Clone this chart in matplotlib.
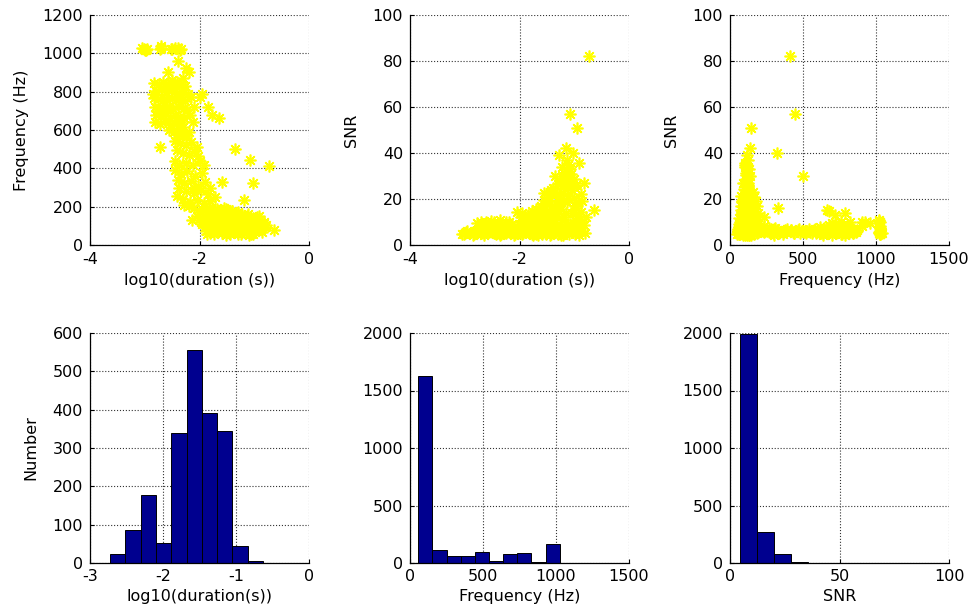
import numpy as np
import matplotlib
matplotlib.use("Agg")
import matplotlib.pyplot as plt

plt.rcParams['font.family'] = ['DejaVu Sans']
plt.rcParams['axes.unicode_minus'] = False

# triggers: log10(duration), frequency (Hz), SNR
# high-frequency group (600-850 Hz)
dur_high = [-2.83, -2.74, -2.66, -2.57, -2.49, -2.41, -2.33, -2.26,
            -2.80, -2.71, -2.62, -2.55, -2.46, -2.38, -2.29, -2.21,
            -2.84, -2.76, -2.68, -2.59, -2.51, -2.43, -2.35, -2.27,
            -2.82, -2.73, -2.64, -2.56, -2.48, -2.40, -2.31, -2.23,
            -2.79, -2.70, -2.61, -2.53, -2.45, -2.36, -2.28,
            -2.81, -2.72, -2.63, -2.54, -2.46, -2.38, -2.30,
            -2.55, -2.47, -2.40, -2.32, -2.25, -2.42,
            -2.15, -2.10, -2.18, -2.12, -2.00,
            -1.95, -1.85, -1.78, -1.65,
            -2.40, -2.58, -2.25, -2.20, -2.30, -2.50,
            -2.65, -2.35, -2.85, -2.62, -2.78, -2.47]
freq_high = [845, 838, 850, 842, 835, 848, 840, 830,
             805, 812, 798, 808, 800, 795, 810, 790,
             768, 760, 772, 755, 765, 758, 770, 752,
             722, 715, 728, 718, 710, 725, 712, 705,
             680, 672, 688, 665, 678, 670, 660,
             640, 632, 645, 628, 638, 625, 618,
             600, 590, 585, 595, 575, 560,
             770, 720, 680, 640, 770,
             790, 722, 680, 662,
             958, 905, 925, 905, 870, 860,
             700, 640, 790, 760, 700, 820]
snr_high = [5.2, 6.1, 5.5, 7.0, 5.8, 6.4, 5.1, 6.8,
            6.0, 5.3, 7.4, 5.6, 8.1, 6.2, 5.4, 7.2,
            4.8, 6.6, 5.9, 8.5, 6.3, 5.0, 7.6, 6.0,
            5.7, 6.9, 5.1, 7.8, 6.5, 9.2, 5.5, 6.7,
            6.2, 5.4, 7.1, 6.0, 8.8, 5.6, 6.4,
            5.1, 6.3, 7.5, 5.9, 6.8, 5.3, 7.9,
            6.1, 5.4, 6.9, 5.7, 6.5, 5.2,
            6.0, 5.5, 6.7, 5.8, 8.8,
            14.0, 13.2, 14.6, 15.2,
            9.5, 8.2, 9.8, 10.2, 6.5, 5.8,
            4.2, 4.3, 4.4, 10.0, 9.5, 9.8]

# 1024 Hz group
dur_top = [-3.02, -2.98, -3.05, -2.96, -3.00, -2.72, -2.70, -2.52,
           -2.50, -2.45, -2.36, -2.34, -2.40, -2.71]
freq_top = [1024, 1020, 1028, 1024, 1018, 1024, 1026, 1022,
            1024, 1028, 1020, 1024, 1030, 1040]
snr_top = [5.0, 5.8, 4.6, 6.2, 5.4, 7.5, 9.8, 10.6,
           6.0, 8.4, 11.0, 4.8, 7.2, 5.2]

# mid-frequency group (200-550 Hz)
dur_mid = [-2.45, -2.35, -2.25, -2.15, -2.05,
           -2.42, -2.30, -2.20, -2.10, -2.02,
           -2.45, -2.38, -2.25, -2.12, -2.00,
           -2.44, -2.33, -2.22, -2.08, -1.96,
           -2.40, -2.28, -2.15, -2.02, -1.90, -1.80,
           -2.38, -2.25, -2.10, -1.98, -1.85, -1.72,
           -2.30, -2.18, -2.05, -1.92, -1.80,
           -2.20, -2.10, -2.28, -2.30, -2.20, -1.91,
           -2.73, -2.42, -2.13, -1.58, -1.18, -2.05, -2.10]
freq_mid = [545, 530, 520, 540, 510,
            495, 480, 470, 490, 465,
            440, 420, 430, 415, 440,
            390, 370, 385, 360, 375,
            340, 325, 335, 310, 330, 300,
            295, 280, 270, 285, 265, 250,
            240, 225, 235, 220, 230,
            205, 195, 210, 570, 590, 415,
            511, 256, 130, 330, 235, 150, 300]
snr_mid = [5.5, 6.2, 5.1, 6.8, 5.7,
           6.0, 5.3, 7.1, 5.9, 6.4,
           5.2, 6.6, 5.8, 6.1, 5.4,
           6.9, 5.5, 6.3, 5.0, 6.7,
           5.8, 6.4, 5.2, 7.3, 6.0, 6.8,
           5.4, 6.9, 5.6, 6.2, 7.5, 6.6,
           5.9, 6.3, 5.5, 7.0, 8.2,
           6.1, 5.8, 6.4, 6.0, 5.5, 6.5,
           6.0, 6.0, 9.0, 16.0, 12.0, 14.3, 4.2]

# low-frequency, long-duration group (50-200 Hz)
dur_low = [-1.93, -1.90, -1.95, -1.88, -1.92,
           -1.83, -1.80, -1.84, -1.78, -1.81,
           -1.73, -1.70, -1.74, -1.68, -1.71,
           -1.63, -1.60, -1.64, -1.58, -1.61, -1.66,
           -1.53, -1.50, -1.54, -1.48, -1.51, -1.47,
           -1.43, -1.40, -1.44, -1.38, -1.41, -1.45, -1.39,
           -1.33, -1.30, -1.34, -1.28, -1.31, -1.29, -1.35,
           -1.23, -1.20, -1.24, -1.18, -1.21, -1.19, -1.25, -1.22,
           -1.13, -1.10, -1.14, -1.08, -1.11, -1.09, -1.15, -1.12,
           -1.03, -1.00, -1.04, -0.98, -1.01, -1.05, -0.99,
           -0.93, -0.90, -0.94, -0.88, -0.91,
           -0.83, -0.80, -0.78,
           -0.64, -0.82, -0.91, -0.95, -1.15, -1.27, -1.55, -0.98]
freq_low = [185, 150, 110, 75, 130,
            195, 160, 120, 90, 65,
            180, 140, 100, 70, 125,
            175, 135, 95, 62, 150, 115,
            170, 125, 85, 105, 140, 65,
            165, 130, 90, 110, 150, 70, 120,
            160, 115, 80, 135, 100, 60, 125,
            155, 120, 95, 70, 135, 110, 145, 80,
            150, 115, 90, 65, 125, 105, 140, 75,
            140, 110, 85, 70, 125, 100, 130,
            130, 100, 80, 115, 90,
            115, 95, 105,
            78, 120, 100, 145, 140, 115, 120, 110]
snr_low = [5.2, 6.8, 4.9, 7.5, 10.5,
           6.0, 5.4, 8.2, 4.6, 11.8,
           7.1, 5.0, 9.6, 6.3, 13.0,
           5.8, 12.4, 7.0, 4.8, 16.5, 4.4,
           6.6, 18.0, 5.1, 9.9, 14.2, 7.8,
           4.7, 22.0, 11.3, 6.2, 16.8, 8.6, 25.0,
           5.5, 26.5, 7.4, 19.2, 13.5, 4.9, 10.0,
           8.0, 29.0, 15.6, 5.3, 22.4, 31.5, 4.5, 11.0,
           6.4, 33.5, 18.5, 9.2, 26.0, 4.6, 13.8, 21.5,
           7.7, 28.5, 14.0, 5.0, 20.5, 24.0, 10.8,
           12.5, 6.0, 18.8, 22.0, 4.5,
           8.5, 5.2, 12.0,
           15.2, 27.0, 35.6, 51.0, 42.0, 39.0, 22.6, 8.7]

# more of the low-frequency group, filling the dense cloud
dur_low2 = [-2.00, -1.97, -1.86, -1.76, -1.69, -1.66, -1.56, -1.57, -1.49, -1.46,
            -1.37, -1.36, -1.42, -1.32, -1.26, -1.27, -1.17, -1.16, -1.14, -1.06,
            -1.07, -0.97, -0.96, -0.86, -0.87, -1.24, -1.44, -1.74, -1.06, -0.85,
            -1.90, -1.62, -1.52, -1.12, -1.30, -1.80, -1.58, -1.35, -1.19, -0.99,
            -1.13, -1.23, -1.75, -1.45, -1.20, -1.87, -1.68, -1.40, -1.02, -0.92,
            -1.85, -1.72, -1.60, -1.50, -1.41, -1.65, -1.55, -1.30, -1.45, -1.95,
            -1.52, -1.10, -1.08, -1.18, -1.12, -1.00]
freq_low2 = [170, 120, 140, 160, 110, 85, 115, 160, 95, 130,
             100, 140, 115, 125, 105, 150, 125, 95, 110, 120,
             90, 115, 135, 105, 85, 60, 55, 55, 55, 70,
             95, 180, 190, 160, 170, 185, 75, 80, 85, 75,
             125, 105, 130, 100, 130, 60, 190, 175, 60, 150,
             175, 190, 185, 175, 180, 170, 195, 165, 160, 190,
             50, 52, 130, 140, 105, 120]
snr_low2 = [9.0, 12.0, 10.0, 12.5, 15.5, 9.0, 19.5, 10.5, 13.0, 21.0,
            17.0, 12.5, 24.0, 22.0, 27.0, 17.0, 28.5, 24.5, 30.5, 31.0,
            27.0, 26.0, 16.0, 19.0, 14.5, 8.0, 6.0, 5.5, 7.0, 10.0,
            8.0, 8.5, 6.0, 9.0, 7.5, 9.5, 11.5, 15.0, 19.0, 17.0,
            37.0, 34.0, 4.2, 4.3, 4.2, 6.5, 5.5, 6.0, 5.5, 9.5,
            11.0, 14.0, 17.0, 19.0, 13.0, 12.0, 9.0, 21.0, 23.0, 7.0,
            5.0, 6.0, 33.0, 30.0, 35.0, 25.5]

# loud outliers
dur_loud = [-0.73, -1.07, -1.02, -1.36]
freq_loud = [412, 443, 325, 499]
snr_loud = [82.0, 57.0, 40.0, 30.0]

# histograms (10 bins each)
dur_edges = [-2.723, -2.514, -2.305, -2.096, -1.887, -1.678, -1.469, -1.260, -1.051, -0.842, -0.633]
dur_counts = [24, 85, 177, 52, 340, 555, 392, 345, 45, 6]
freq_edges = [57, 154, 251, 348, 445, 542, 639, 735, 832, 929, 1026]
freq_counts = [1630, 116, 58, 58, 96, 15, 82, 90, 6, 169]
snr_edges = [4.5, 12.3, 20.1, 27.9, 35.7, 43.5, 51.3, 59.1, 66.9, 74.7, 82.5]
snr_counts = [1995, 268, 79, 12, 3, 2, 1, 0, 0, 1]

dur = np.array(dur_high + dur_top + dur_mid + dur_low + dur_low2 + dur_loud)
freq = np.array(freq_high + freq_top + freq_mid + freq_low + freq_low2 + freq_loud)
snr = np.array(snr_high + snr_top + snr_mid + snr_low + snr_low2 + snr_loud)

fig = plt.figure(figsize=(9.73, 6.11), dpi=100)
W, H = 973.0, 611.0
lefts = [90, 410, 730]
row_top = [15, 333]
fs = 11.5


def make_ax(col, row):
    x0 = lefts[col]
    y0 = row_top[row]
    ax = fig.add_axes([x0 / W, 1 - (y0 + 230) / H, 219 / W, 230 / H])
    for s in ['top', 'right']:
        ax.spines[s].set_visible(False)
    for s in ['left', 'bottom']:
        ax.spines[s].set_linewidth(0.9)
    ax.grid(True, linestyle=':', color='#333333', linewidth=0.8)
    ax.set_axisbelow(True)
    ax.tick_params(direction='in', length=3, labelsize=fs, pad=5)
    if row == 1:
        ax.tick_params(axis='x', pad=4)
    return ax


star = (8, 2, 0)
mk = dict(linestyle='none', marker=star, color=(1, 1, 0), markersize=8.5, markeredgewidth=1.2)

ax = make_ax(0, 0)
ax.plot(dur, freq, **mk)
ax.set_xlim(-4, 0)
ax.set_ylim(0, 1200)
ax.set_xticks([-4, -2, 0])
ax.set_yticks(range(0, 1201, 200))
ax.set_xlabel('log10(duration (s))', fontsize=fs)
ax.set_ylabel('Frequency (Hz)', fontsize=fs, labelpad=10)

ax = make_ax(1, 0)
ax.plot(dur, snr, **mk)
ax.set_xlim(-4, 0)
ax.set_ylim(0, 100)
ax.set_xticks([-4, -2, 0])
ax.set_yticks(range(0, 101, 20))
ax.set_xlabel('log10(duration (s))', fontsize=fs)
ax.set_ylabel('SNR', fontsize=fs, labelpad=10)

ax = make_ax(2, 0)
ax.plot(freq, snr, **mk)
ax.set_xlim(0, 1500)
ax.set_ylim(0, 100)
ax.set_xticks([0, 500, 1000, 1500])
ax.set_yticks(range(0, 101, 20))
ax.set_xlabel('Frequency (Hz)', fontsize=fs)
ax.set_ylabel('SNR', fontsize=fs, labelpad=10)

navy = (0, 0, 0.5625)
hists = [(dur_edges, dur_counts, (-3, 0), [-3, -2, -1, 0], (0, 600), range(0, 601, 100), 'log10(duration(s))'),
         (freq_edges, freq_counts, (0, 1500), [0, 500, 1000, 1500], (0, 2000), range(0, 2001, 500), 'Frequency (Hz)'),
         (snr_edges, snr_counts, (0, 100), [0, 50, 100], (0, 2000), range(0, 2001, 500), 'SNR')]
for i, (edges, counts, xl, xt, yl, yt, lab) in enumerate(hists):
    ax = make_ax(i, 1)
    e = np.array(edges)
    ax.bar(e[:-1], counts, width=np.diff(e), align='edge', color=navy,
           edgecolor='black', linewidth=0.7)
    ax.set_xlim(*xl)
    ax.set_ylim(*yl)
    ax.set_xticks(xt)
    ax.set_yticks(list(yt))
    ax.set_xlabel(lab, fontsize=fs)
    if i == 0:
        ax.set_ylabel('Number', fontsize=fs, labelpad=10)

fig.savefig('out.png', dpi=100)
